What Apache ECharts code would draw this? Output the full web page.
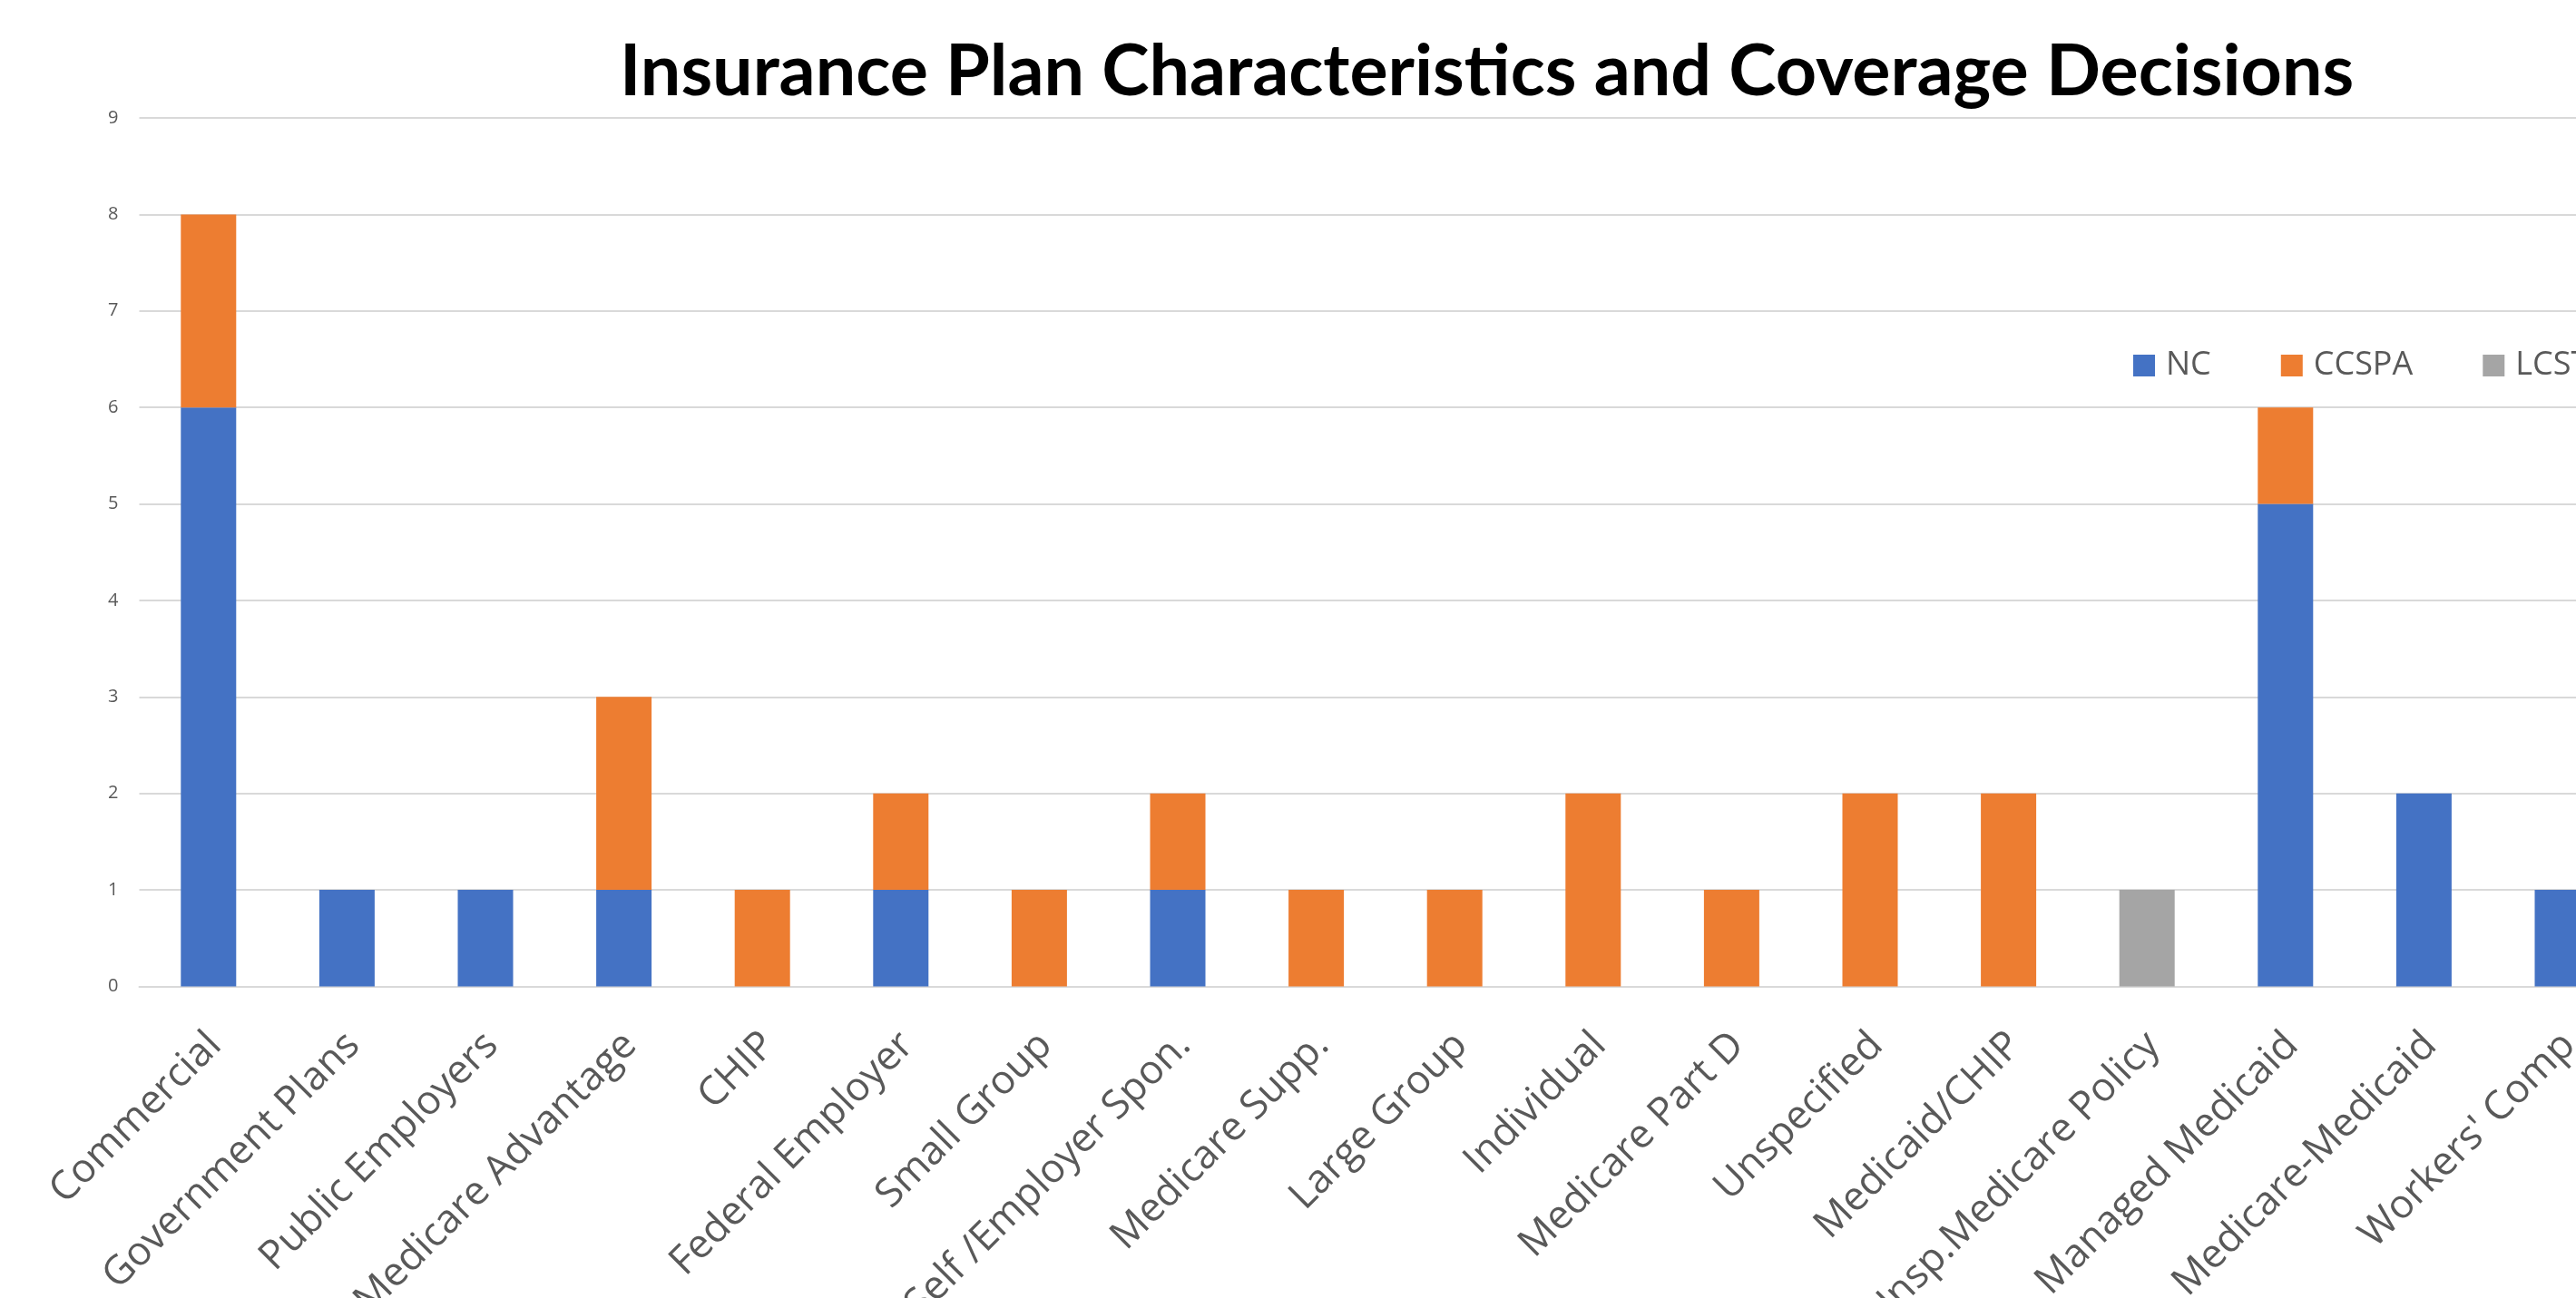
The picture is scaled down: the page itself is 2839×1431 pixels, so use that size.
<!DOCTYPE html>
<html>
<head>
<meta charset="utf-8">
<script src="https://cdn.jsdelivr.net/npm/echarts@6/dist/echarts.min.js"></script>
<style>
html,body{margin:0;padding:0;background:#fff;}
#chart{width:2839px;height:1431px;}
</style>
</head>
<body>
<div id="chart"></div>
<script>
const categories = ["Commercial","Government Plans","Public Employers","Medicare Advantage","CHIP","Federal Employer","Small Group","Self /Employer Spon.","Medicare Supp.","Large Group","Individual","Medicare Part D","Unspecified","Medicaid/CHIP","Unsp.Medicare Policy","Managed Medicaid","Medicare-Medicaid","Workers' Comp"];
const ncValues    = [6,1,1,1,0,1,0,1,0,0,0,0,0,0,0,5,2,1];
const ccspaValues = [2,0,0,2,1,1,1,1,1,1,2,1,2,2,0,1,0,0];
const lcstValues  = [0,0,0,0,0,0,0,0,0,0,0,0,0,0,1,0,0,0];
const yTicks = [0,1,2,3,4,5,6,7,8,9];
const titleText = "Insurance Plan Characteristics and Coverage Decisions";

const chart = echarts.init(document.getElementById('chart'), null, {renderer:'canvas'});
const labelColor = '#595959';
const gridColor = '#d9d9d9';
const catWidth = 152.6;

function barSeries(name, data, color){
  return {
    name: name, type: 'bar', stack: 'total', data: data,
    barWidth: 61,
    itemStyle: {color: color},
    emphasis: {disabled: true}
  };
}

chart.setOption({
  animation: false,
  backgroundColor: '#ffffff',
  title: {
    text: titleText,
    left: 678, top: 35,
    textStyle: {fontFamily: 'Lato', fontWeight: 'bold', fontSize: 79, color: '#000000'}
  },
  legend: {
    data: ['NC','CCSPA','LCST'],
    left: 2346, top: 380, width: 1200,
    icon: 'rect',
    itemWidth: 24, itemHeight: 24, itemGap: 77,
    textStyle: {fontFamily: 'Open Sans', fontSize: 36, color: labelColor, padding: [0,0,0,7]}
  },
  grid: {left: 153.5, top: 130, width: catWidth * categories.length, bottom: 343.5,
         containLabel: false, outerBoundsMode: 'none'},
  xAxis: {
    type: 'category',
    data: categories,
    axisLine: {lineStyle: {color: gridColor, width: 2}},
    axisTick: {show: false},
    axisLabel: {
      interval: 0, rotate: 45, align: 'right', verticalAlign: 'top',
      margin: 34, padding: [0, 12, 0, 0],
      fontFamily: 'Open Sans', fontSize: 44, lineHeight: 44, color: labelColor
    }
  },
  yAxis: {
    type: 'value', min: yTicks[0], max: yTicks[yTicks.length-1], interval: 1,
    axisLine: {show: false}, axisTick: {show: false},
    splitLine: {lineStyle: {color: gridColor, width: 2}},
    axisLabel: {margin: 23, fontFamily: 'Open Sans', fontSize: 20, color: labelColor}
  },
  series: [
    barSeries('NC', ncValues, '#4472C4'),
    barSeries('CCSPA', ccspaValues, '#ED7D31'),
    barSeries('LCST', lcstValues, '#A5A5A5')
  ]
});
</script>
</body>
</html>
